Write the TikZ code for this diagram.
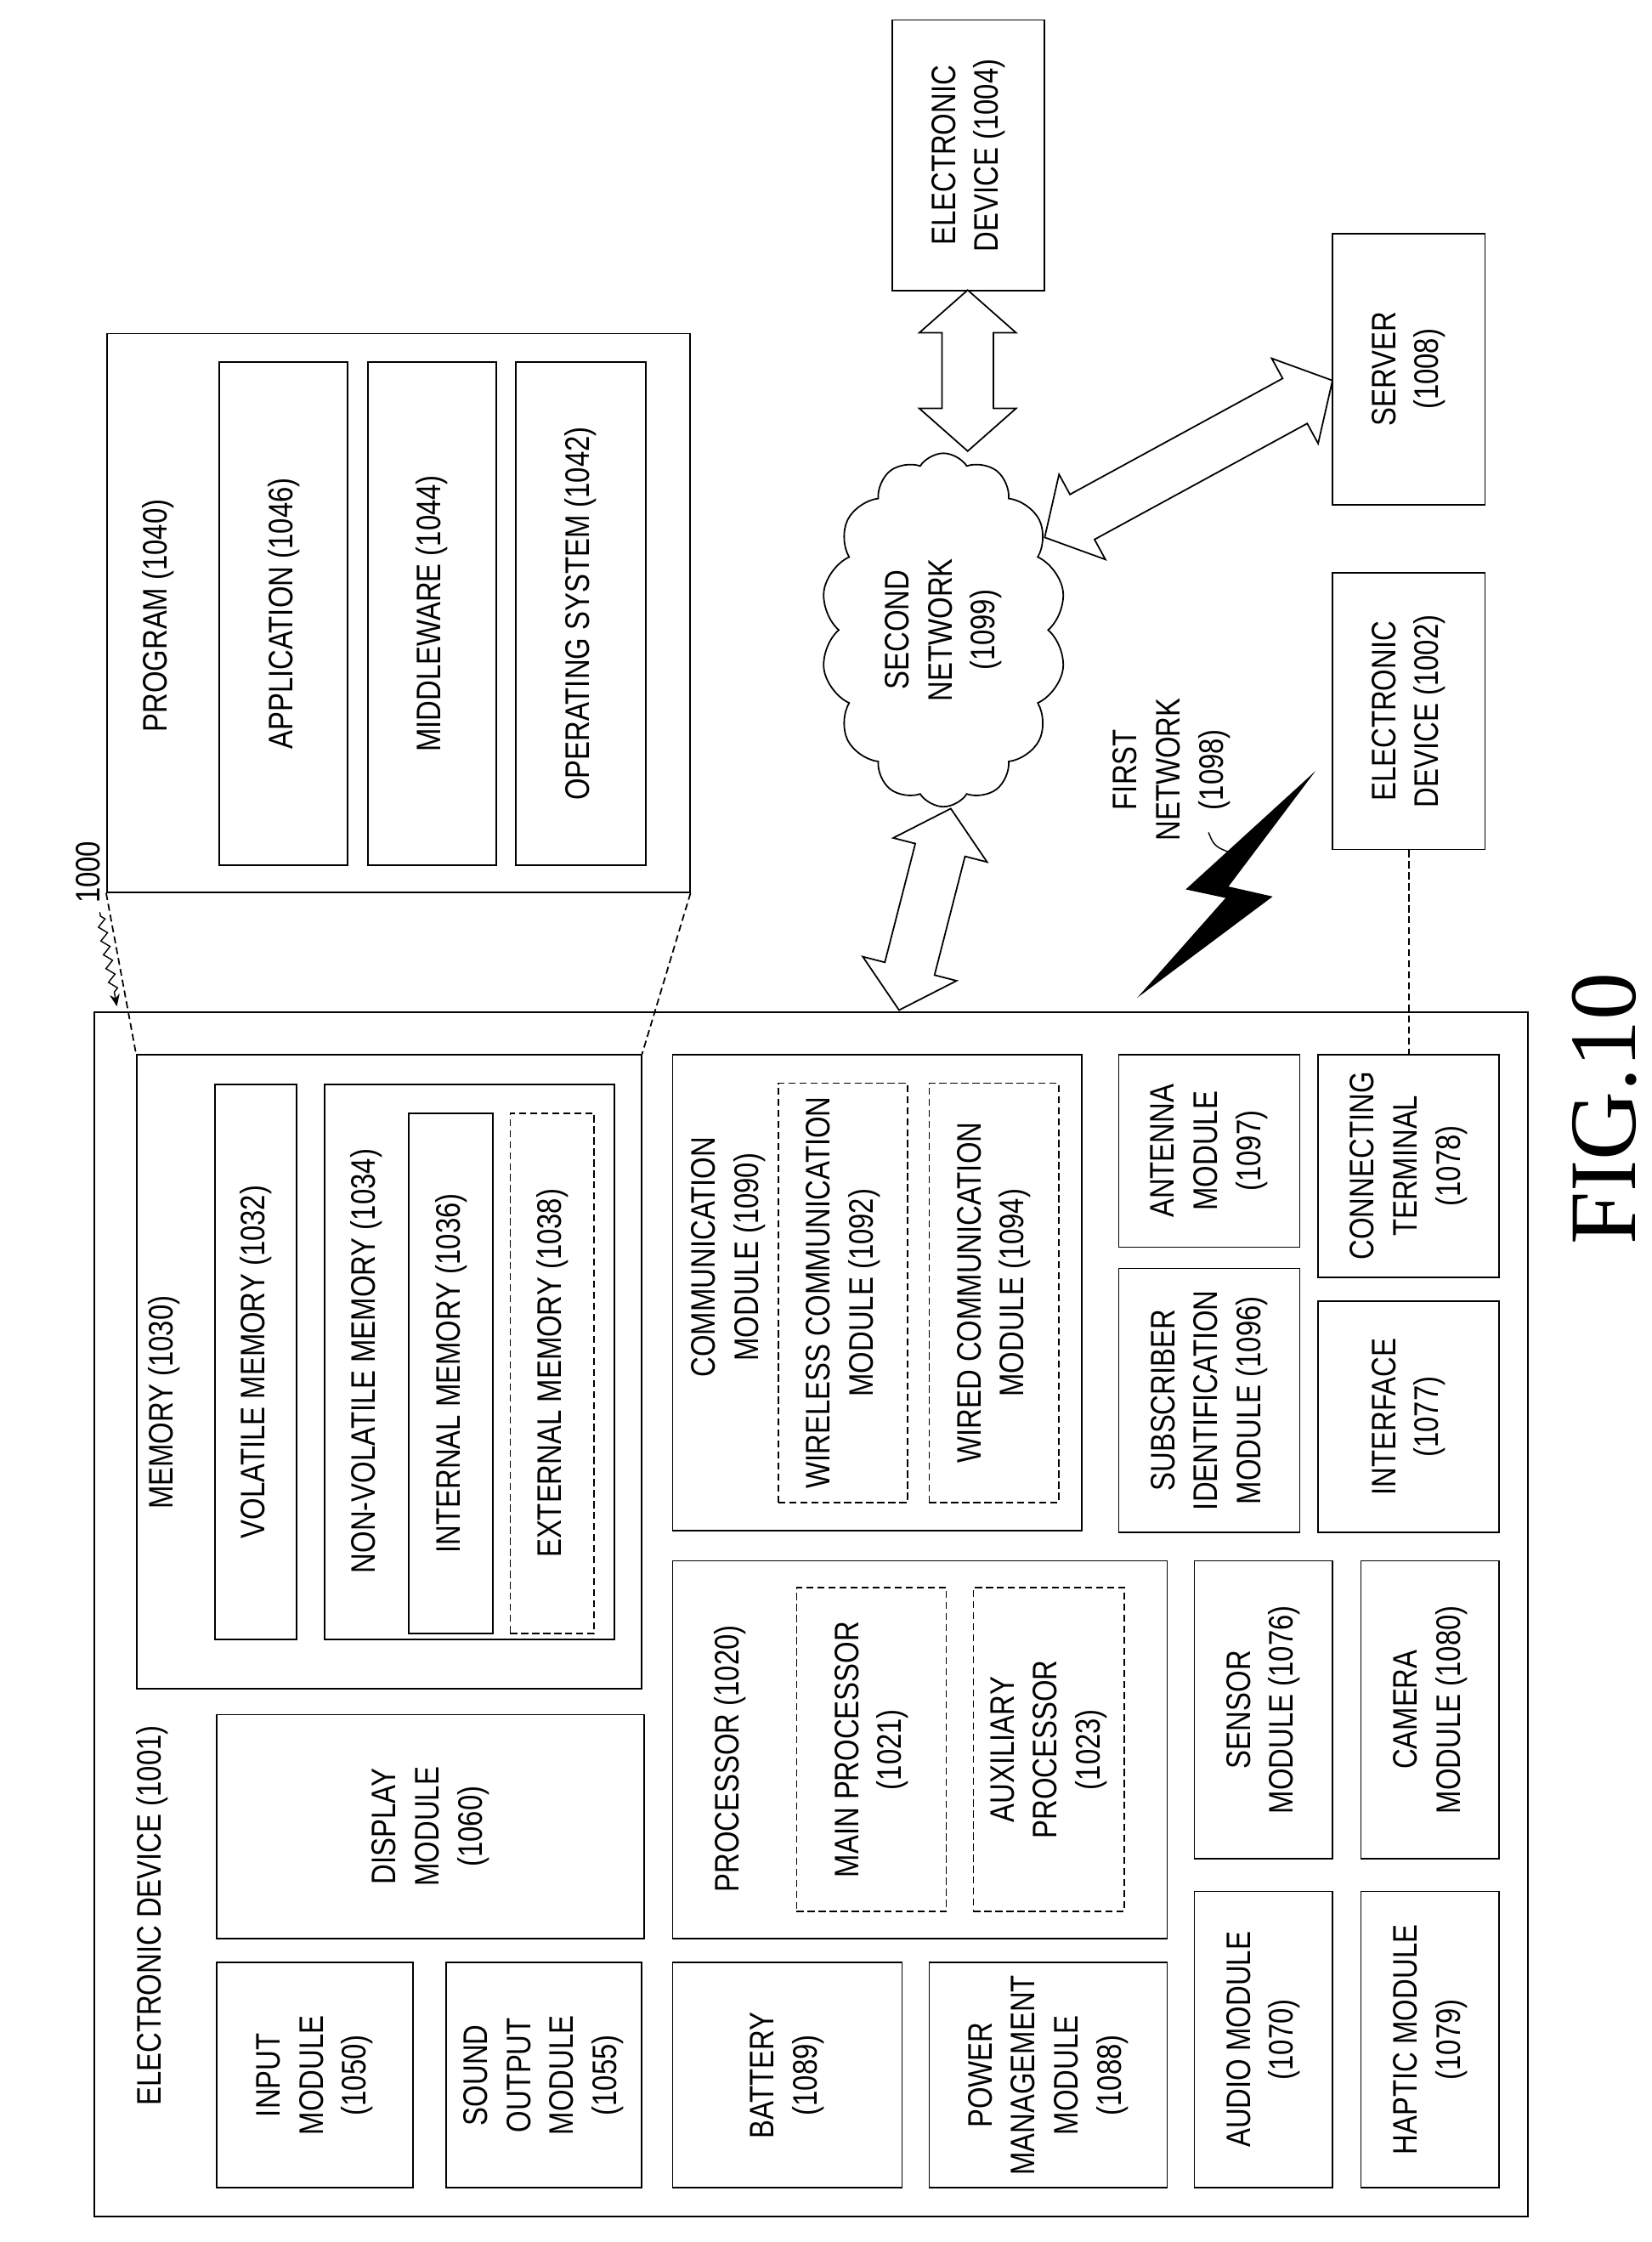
\documentclass[tikz,border=0pt]{standalone}
\usepackage{fontspec}
\setmainfont{Liberation Sans}[FakeStretch=0.82]
\newfontfamily\figfont{Liberation Serif}
\usetikzlibrary{shapes.symbols,calc,decorations.pathmorphing,arrows.meta}
\newcommand\bx[7][]{%
 \pgfmathsetmacro\bw{abs(#5-#3)*0.05}%
 \pgfmathsetmacro\bh{abs(#6-#4)*0.05}%
 \node[boxst,#1,minimum width=\bw cm,minimum height=\bh cm] (#2) at ({(#3+#5)/2},{(#4+#6)/2}) {};%
 \node[txt] at (#2) {#7};}
% hollow double arrow: name, cx, cy, canvas angle, length
\newcommand\dar[5]{%
 \coordinate (#1) at (#2,#3);
 \begin{scope}[shift={(#1)},rotate=#4]
 \pgfmathsetmacro\hl{#5/2}\pgfmathsetmacro\hk{#5/2-30}
 \draw[line width=1.5pt,line join=miter,fill=white] (-\hl,0) -- (-\hk,34) -- (-\hk,18) -- (\hk,18) -- (\hk,34) -- (\hl,0) -- (\hk,-34) -- (\hk,-18) -- (-\hk,-18) -- (-\hk,-34) -- cycle;
 \end{scope}}
\begin{document}
\begin{tikzpicture}[x=0.05cm,y=-0.05cm,
 boxst/.style={draw,line width=1.5pt,inner sep=0pt,rectangle},
 dsh/.style={dash pattern=on 7pt off 4pt},
 txt/.style={rotate=90,align=center,font=\fontsize{34}{43}\selectfont}]
\useasboundingbox (0,0) rectangle (1159,1573);
% outer device
\bx{dev}{66}{710}{1072}{1555}{}
\node[txt] at (107,1344) {ELECTRONIC DEVICE (1001)};
\bx{inp}{152}{1377}{290}{1535}{INPUT\\MODULE\\(1050)}
\bx{snd}{313}{1377}{450}{1535}{SOUND\\OUTPUT\\MODULE\\(1055)}
\bx{disp}{152}{1203}{452}{1360}{DISPLAY\\MODULE\\(1060)}
% memory
\bx{mem}{96}{740}{450}{1185}{}
\node[txt] at (115,984) {MEMORY (1030)};
\bx{vol}{151}{761}{208}{1150}{VOLATILE MEMORY (1032)}
\bx{nvol}{228}{761}{431}{1150}{}
\node[txt] at (257,955) {NON-VOLATILE MEMORY (1034)};
\bx{imem}{287}{781}{346}{1146}{INTERNAL MEMORY (1036)}
\bx[dsh]{emem}{358}{781}{417}{1146}{EXTERNAL MEMORY (1038)}
% program
\bx{prog}{75}{234}{484}{626}{}
\node[txt] at (111,432) {PROGRAM (1040)};
\bx{app}{154}{254}{244}{607}{APPLICATION (1046)}
\bx{mid}{258}{254}{348}{607}{MIDDLEWARE (1044)}
\bx{os}{362}{254}{453}{607}{OPERATING SYSTEM (1042)}
\draw[line width=1.5pt,dsh] (prog.south west) -- (mem.north west);
\draw[line width=1.5pt,dsh] (prog.south east) -- (mem.north east);
% processor
\bx{batt}{472}{1377}{633}{1535}{BATTERY\\(1089)}
\bx{pmm}{652}{1377}{819}{1535}{POWER\\MANAGEMENT\\MODULE\\(1088)}
\bx{proc}{472}{1095}{819}{1360}{}
\node[txt] at (512,1234) {PROCESSOR (1020)};
\bx[dsh]{mainp}{559}{1114}{664}{1341}{MAIN PROCESSOR\\(1021)}
\bx[dsh]{auxp}{683}{1114}{789}{1341}{AUXILIARY\\PROCESSOR\\(1023)}
% communication
\bx{comm}{472}{740}{759}{1074}{}
\node[txt] at (511,882) {COMMUNICATION\\MODULE (1090)};
\bx[dsh]{wless}{546}{760}{637}{1054}{WIRELESS COMMUNICATION\\MODULE (1092)}
\bx[dsh]{wired}{652}{760}{743}{1054}{WIRED COMMUNICATION\\MODULE (1094)}
% lower
\bx{audio}{838}{1327}{935}{1535}{AUDIO MODULE\\(1070)}
\bx{haptic}{955}{1327}{1052}{1535}{HAPTIC MODULE\\(1079)}
\bx{sensor}{838}{1095}{935}{1304}{SENSOR\\MODULE (1076)}
\bx{camera}{955}{1095}{1052}{1304}{CAMERA\\MODULE (1080)}
\bx{sim}{785}{890}{912}{1075}{SUBSCRIBER\\IDENTIFICATION\\MODULE (1096)}
\bx{iface}{925}{913}{1052}{1075}{INTERFACE\\(1077)}
\bx{ant}{785}{740}{912}{875}{ANTENNA\\MODULE\\(1097)}
\bx{conn}{925}{740}{1052}{896}{CONNECTING\\TERMINAL\\(1078)}
% external
\bx{ed4}{626}{14}{733}{204}{ELECTRONIC\\DEVICE (1004)}
\bx{srv}{935}{164}{1042}{354}{SERVER\\(1008)}
\bx{ed2}{935}{402}{1042}{596}{ELECTRONIC\\DEVICE (1002)}
\draw[line width=1.5pt,dsh] (ed2.south) -- (ed2.south |- conn.north);
\node[cloud,draw,line width=1.5pt,cloud puffs=14,cloud puff arc=115,minimum width=8.6cm,minimum height=12.4cm,aspect=0.69] (cloud) at (662,442) {};
\node[txt] at (cloud) {SECOND\\NETWORK\\(1099)};
\dar{a1}{679}{260}{90}{113}
\dar{a2}{834}{322}{28.6}{230}
\dar{a3}{649}{638}{75.6}{146}
% lightning
\fill (798,700) -- (893,629) -- (862,622) -- (923,541) -- (832,624) -- (860,630) -- cycle;
\node[txt] (fn) at (822,540) {FIRST\\NETWORK\\(1098)};
\draw[line width=1.2pt] (848,584) .. controls (852,594) .. (868,600);
% 1000
\node[txt] (n1000) at (62,612) {1000};
\draw[line width=1.2pt,-{Stealth[length=12pt,width=10pt]},decorate,decoration={zigzag,segment length=14pt,amplitude=4pt,pre length=4pt,post length=8pt}] (70,640) -- (82,706);
\node[rotate=90,font=\figfont\fontsize{95}{100}\selectfont] (fig) at (1126,778) {FIG.10};
\end{tikzpicture}
\end{document}
